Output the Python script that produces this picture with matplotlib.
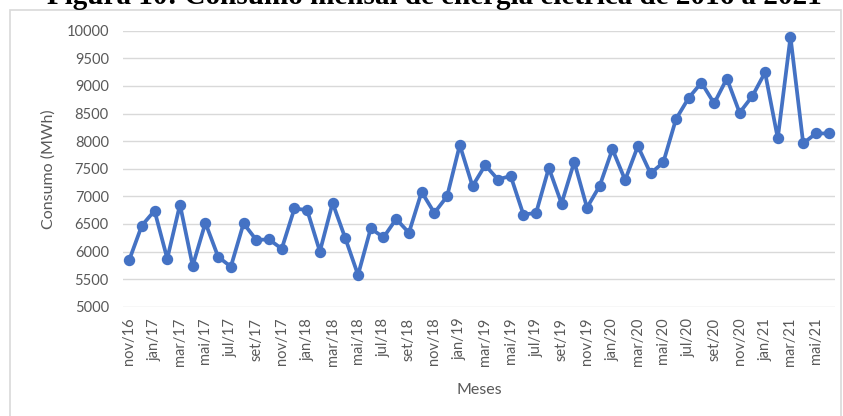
import matplotlib.pyplot as plt
from matplotlib.patches import Rectangle

meses = ['nov/16', 'dez/16',
         'jan/17', 'fev/17', 'mar/17', 'abr/17', 'mai/17', 'jun/17',
         'jul/17', 'ago/17', 'set/17', 'out/17', 'nov/17', 'dez/17',
         'jan/18', 'fev/18', 'mar/18', 'abr/18', 'mai/18', 'jun/18',
         'jul/18', 'ago/18', 'set/18', 'out/18', 'nov/18', 'dez/18',
         'jan/19', 'fev/19', 'mar/19', 'abr/19', 'mai/19', 'jun/19',
         'jul/19', 'ago/19', 'set/19', 'out/19', 'nov/19', 'dez/19',
         'jan/20', 'fev/20', 'mar/20', 'abr/20', 'mai/20', 'jun/20',
         'jul/20', 'ago/20', 'set/20', 'out/20', 'nov/20', 'dez/20',
         'jan/21', 'fev/21', 'mar/21', 'abr/21', 'mai/21', 'jun/21']

consumo = [5840, 6470,
           6740, 5870, 6850, 5740, 6520, 5905,
           5725, 6510, 6210, 6220, 6050, 6780,
           6750, 6000, 6880, 6240, 5575, 6420,
           6255, 6590, 6340, 7080, 6700, 7000,
           7930, 7185, 7565, 7305, 7370, 6670,
           6700, 7515, 6870, 7625, 6795, 7190,
           7855, 7295, 7910, 7415, 7615, 8400,
           8785, 9060, 8685, 9135, 8515, 8815,
           9245, 8050, 9890, 7960, 8140, 8140]

cinza = '#595959'
azul = '#4472C4'

fig = plt.figure(figsize=(8.43, 4.16), dpi=100)

# moldura do grafico (estilo Excel)
fig.patches.append(Rectangle((10 / 843, -0.05), 831 / 843, 1.05 - 10 / 416,
                             transform=fig.transFigure, fill=False,
                             edgecolor='#D9D9D9', linewidth=1.2))

# titulo (a imagem original corta a parte de cima)
fig.text(0.515, 1 - 4 / 416,
         'Figura 10: Consumo mensal de energia elétrica de 2016 a 2021',
         ha='center', va='baseline', fontsize=21, fontweight='bold',
         family='Liberation Serif')

ax = fig.add_axes([0.1456, 0.2627, 0.8449, 0.6633])
x = list(range(len(meses)))
ax.plot(x, consumo, '-o', color=azul, linewidth=2.7, markersize=7.2)

ax.set_xlim(-0.5, len(meses) - 0.5)
ax.set_ylim(5000, 10000)
ax.set_yticks(range(5000, 10001, 500))
ax.set_xticks(x[::2])
ax.set_xticklabels(meses[::2], rotation=90)

ax.grid(axis='y', color='#D9D9D9', linewidth=1)
ax.set_axisbelow(True)
for s in ax.spines.values():
    s.set_visible(False)
ax.tick_params(length=0, colors=cinza, labelsize=10.5)
ax.tick_params(axis='x', pad=8)
ax.tick_params(axis='y', pad=10)
for lab in ax.get_xticklabels() + ax.get_yticklabels():
    lab.set_family('Lato')

ax.set_ylabel('Consumo (MWh)', color=cinza, fontsize=11.5, family='Lato', labelpad=8)
ax.set_xlabel('Meses', color=cinza, fontsize=11.5, family='Lato', labelpad=12)

fig.savefig('out.png', dpi=100)
